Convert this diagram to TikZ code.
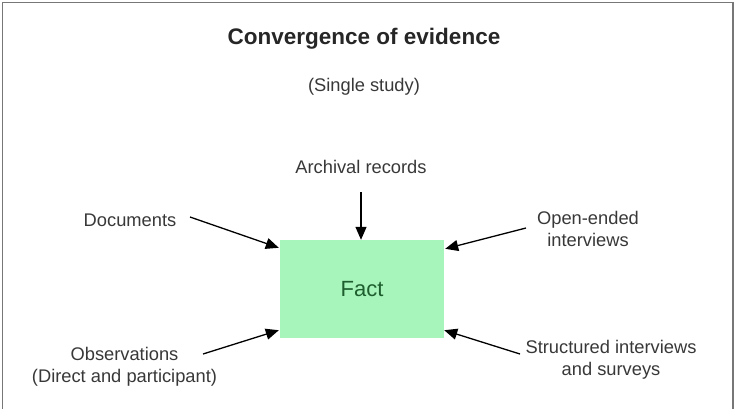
\documentclass[tikz,border=0pt]{standalone}
\usepackage{fontspec}
\setmainfont{Liberation Sans}
\usetikzlibrary{arrows.meta}
\definecolor{txt}{HTML}{383838}
\definecolor{factfill}{HTML}{A8F5BC}
\definecolor{facttxt}{HTML}{1E5E2E}
\definecolor{framegray}{HTML}{777777}
\tikzset{
  lbl/.style={inner sep=0pt, text=txt, align=center, font=\fontsize{18.3}{22}\selectfont},
  ttl/.style={inner sep=0pt, text=black!85, font=\fontsize{22.5}{27}\selectfont\bfseries},
  factbox/.style={fill=factfill, draw=none, minimum width=164pt, minimum height=98pt, inner sep=0pt,
    text=facttxt, font=\fontsize{22}{26}\selectfont},
  arr/.style={draw=black, line width=1.3pt, -{Triangle[length=13pt,width=11pt]}}
}
\begin{document}
\begin{tikzpicture}[x=1pt,y=-1pt]
\useasboundingbox (0,0) rectangle (735,408);
\draw[framegray, line width=1.5pt] (2.5,410) -- (2.5,2.5) -- (733,2.5) -- (733,410);
\node[ttl] (title) at (364,39) {Convergence of evidence};
\node[lbl] (single) at (364,87) {(Single study)};
\node[factbox] (fact) at (362,289) {Fact};
\node[lbl] (arch) at (361,167) {Archival records};
\node[lbl] (doc) at (130,220) {Documents};
\node[lbl] (open) at (588,229) {Open-ended\\interviews};
\node[lbl] (obs) at (124.5,367) {Observations\\(Direct and participant)};
\node[lbl] (struct) at (611,360) {Structured interviews\\and surveys};
\draw[arr] ([yshift=-25pt]arch.center) -- ([xshift=-1pt]fact.north);
\draw[arr] ([xshift=60pt,yshift=3pt]doc.center) -- ([xshift=-1pt,yshift=-8pt]fact.north west);
\draw[arr] ([xshift=-62pt,yshift=1pt]open.center) -- ([xshift=1pt,yshift=-9pt]fact.north east);
\draw[arr] ([xshift=78.5pt,yshift=13pt]obs.center) -- ([xshift=-1pt,yshift=8pt]fact.south west);
\draw[arr] ([xshift=-91pt,yshift=6pt]struct.center) -- ([xshift=0pt,yshift=8pt]fact.south east);
\end{tikzpicture}
\end{document}
